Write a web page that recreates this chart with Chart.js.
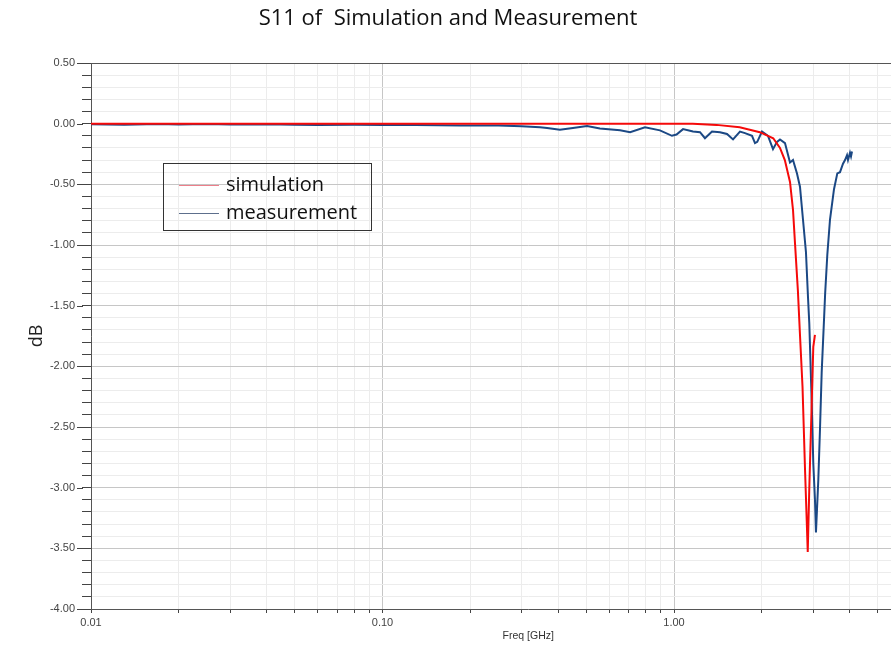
<!DOCTYPE html>
<html>
<head>
<meta charset="utf-8">
<title>S11 of Simulation and Measurement</title>
<script src="https://cdn.jsdelivr.net/npm/chart.js@4.4.1/dist/chart.umd.min.js"></script>
<style>
  html, body { margin: 0; padding: 0; background: #fff; overflow: hidden; }
  .page { position: relative; width: 891px; height: 645px; overflow: hidden; }
  .chart-box { position: absolute; left: 0; top: 0; width: 1000px; height: 645px; }
  .title { position: absolute; left: 0; top: 1px; width: 896px; text-align: center;
           font: 22px "Open Sans", sans-serif; color: #111; white-space: pre; }
  .legend { position: absolute; left: 163px; top: 163px; width: 207px; height: 66px;
            border: 1px solid #333; font: 20px "Open Sans", sans-serif; color: #111; }
  .legend-row { position: absolute; left: 0; height: 28px; line-height: 28px; white-space: nowrap; }
  .legend-row .swatch { position: absolute; left: 15px; top: 14px; width: 40px; height: 0; border-top: 1px solid; }
  .legend-row .name { position: absolute; left: 62px; top: -1px; }
</style>
</head>
<body>
<div class="page">
  <div class="chart-box"><canvas id="s11Chart"></canvas></div>
  <div class="title" id="chartTitle"></div>
  <div class="legend" id="legendBox"></div>
</div>
<script>
// Simulation (red) — frequency in GHz, S11 in dB
var simFreq = [0.01, 0.1, 1.0, 1.16, 1.40, 1.68, 1.97, 2.19, 2.31, 2.40, 2.50, 2.56, 2.60, 2.66, 2.70,
  2.76, 2.815, 2.853, 2.876, 2.912, 2.968, 3.005, 3.045];
var simDb = [0.0, 0.0, 0.0, 0.0, -0.01, -0.03, -0.07, -0.12, -0.20, -0.30, -0.48, -0.71, -0.98, -1.37, -1.70,
  -2.17, -2.85, -3.27, -3.53, -3.00, -2.30, -1.84, -1.74];

// Measurement (blue)
var measFreq = [0.010, 0.013, 0.017, 0.020, 0.025, 0.030, 0.040, 0.050, 0.060, 0.080,
  0.100, 0.130, 0.185, 0.250, 0.300, 0.347, 0.367, 0.406, 0.450, 0.503,
  0.557, 0.653, 0.707, 0.795, 0.895, 0.984, 1.020,
  1.074, 1.162, 1.228, 1.277, 1.350, 1.438, 1.520, 1.594, 1.684, 1.752,
  1.852, 1.896, 1.930, 2.004, 2.101, 2.186, 2.256, 2.310, 2.403, 2.500,
  2.560, 2.642, 2.705, 2.770, 2.836, 2.882, 2.912, 2.968, 3.005, 3.045,
  3.069, 3.126, 3.168, 3.211, 3.270, 3.300, 3.357, 3.429, 3.539, 3.633,
  3.711, 3.800, 3.861, 3.922, 3.953, 4.016, 4.048, 4.080];
var measDb = [-0.004, -0.008, -0.003, -0.006, -0.002, -0.007, -0.004, -0.008, -0.010, -0.009,
  -0.012, -0.011, -0.015, -0.016, -0.022, -0.030, -0.035, -0.050, -0.035, -0.020,
  -0.040, -0.055, -0.070, -0.030, -0.055, -0.100, -0.090,
  -0.045, -0.065, -0.070, -0.120, -0.065, -0.070, -0.085, -0.130, -0.065, -0.078,
  -0.100, -0.160, -0.150, -0.065, -0.100, -0.210, -0.150, -0.130, -0.160, -0.320,
  -0.300, -0.410, -0.520, -0.790, -1.060, -1.430, -1.650, -2.300, -2.800, -3.100,
  -3.370, -2.940, -2.520, -2.050, -1.620, -1.400, -1.080, -0.790, -0.540, -0.410,
  -0.400, -0.330, -0.300, -0.260, -0.300, -0.240, -0.270, -0.230];

// Axes
var xTickValues = [0.01, 0.02, 0.03, 0.04, 0.05, 0.06, 0.07, 0.08, 0.09,
  0.1, 0.2, 0.3, 0.4, 0.5, 0.6, 0.7, 0.8, 0.9,
  1, 2, 3, 4, 5, 6, 7, 8, 9, 10];
var xLabelValues = [0.01, 0.1, 1];
var yMin = -4.0, yMax = 0.5, yMinorStep = 0.1, yLabelStep = 0.5;

var titleText = 'S11 of  Simulation and Measurement';
var seriesNames = ['simulation', 'measurement'];
var seriesColors = ['#f50a0a', '#1b4884'];
var legendColors = ['#ec7f8a', '#5d6f8c'];

function pairs(xs, ys) {
  return xs.map(function (x, i) { return { x: x, y: ys[i] }; });
}
function isDecade(v) {
  return xLabelValues.some(function (d) { return Math.abs(v - d) < 1e-9; }) || Math.abs(v - 10) < 1e-9;
}
function isHalf(v) {
  return Math.abs(v / yLabelStep - Math.round(v / yLabelStep)) < 1e-6;
}

// longer tick marks next to the labelled y values
var majorTicks = {
  id: 'majorTicks',
  afterDraw: function (chart) {
    var y = chart.scales.y, ctx = chart.ctx;
    ctx.save();
    ctx.strokeStyle = '#444';
    ctx.lineWidth = 1;
    y.ticks.forEach(function (t) {
      if (!isHalf(t.value)) return;
      var py = Math.round(y.getPixelForValue(t.value)) + 0.5;
      ctx.beginPath();
      ctx.moveTo(y.right - 14, py);
      ctx.lineTo(y.right - 8, py);
      ctx.stroke();
    });
    ctx.restore();
  }
};

document.addEventListener('DOMContentLoaded', function () {
  document.getElementById('chartTitle').textContent = titleText;

  // Legend box (inside the plot, bordered)
  var legend = document.getElementById('legendBox');
  legend.innerHTML = seriesNames.map(function (name, i) {
    return '<div class="legend-row" style="top:' + (7 + i * 28) + 'px">'
      + '<span class="swatch" style="border-color:' + legendColors[i] + '"></span>'
      + '<span class="name">' + name + '</span>'
      + '</div>';
  }).join('');

  var tickFont = { family: '"Liberation Sans", Arial, sans-serif', size: 11 };

  new Chart(document.getElementById('s11Chart'), {
    type: 'line',
    data: {
      datasets: [
        {
          label: seriesNames[0], data: pairs(simFreq, simDb),
          borderColor: seriesColors[0], borderWidth: 2, pointRadius: 0, tension: 0, fill: false
        },
        {
          label: seriesNames[1], data: pairs(measFreq, measDb),
          borderColor: seriesColors[1], borderWidth: 2, pointRadius: 0, tension: 0, fill: false
        }
      ]
    },
    options: {
      responsive: true, maintainAspectRatio: false, animation: false,
      layout: { padding: { top: 63, right: 34.5, left: 0, bottom: 0 } },
      plugins: { legend: { display: false }, title: { display: false }, tooltip: { enabled: false } },
      scales: {
        x: {
          type: 'logarithmic', min: 0.01, max: 10,
          afterBuildTicks: function (scale) {
            scale.ticks = xTickValues.map(function (v) { return { value: v }; });
          },
          afterFit: function (scale) { scale.height = 36; },
          grid: {
            color: function (c) { return c.tick && isDecade(c.tick.value) ? '#c6c6c6' : '#ececec'; },
            tickColor: '#444', tickLength: 4
          },
          border: { color: '#555', width: 1 },
          ticks: {
            autoSkip: false, maxRotation: 0, padding: 3, color: '#444', font: tickFont,
            callback: function (v) {
              return xLabelValues.some(function (d) { return Math.abs(v - d) < 1e-9; }) ? Number(v).toFixed(2) : '';
            }
          },
          title: {
            display: true, text: 'Freq [GHz]', color: '#333',
            font: { family: '"Liberation Sans", Arial, sans-serif', size: 10.5 },
            padding: { top: 0, bottom: 3 }
          }
        },
        y: {
          min: yMin, max: yMax,
          afterFit: function (scale) { scale.width = 91; },
          grid: {
            color: function (c) {
              if (!c.tick) return '#ececec';
              if (Math.abs(c.tick.value - yMax) < 1e-6) return '#555';
              return isHalf(c.tick.value) ? '#c6c6c6' : '#ececec';
            },
            tickColor: '#444', tickLength: 9
          },
          border: { color: '#555', width: 1 },
          ticks: {
            stepSize: yMinorStep, autoSkip: false, padding: 7, color: '#444', font: tickFont,
            callback: function (v) {
              if (!isHalf(v)) return '';
              if (Math.abs(v) < 1e-9) return '0.00';
              return Number(v).toFixed(2);
            }
          },
          title: {
            display: true, text: 'dB', color: '#222',
            font: { family: '"Open Sans", sans-serif', size: 18 },
            padding: { top: 26, bottom: 0 }
          }
        }
      }
    },
    plugins: [majorTicks]
  });
});
</script>
</body>
</html>
